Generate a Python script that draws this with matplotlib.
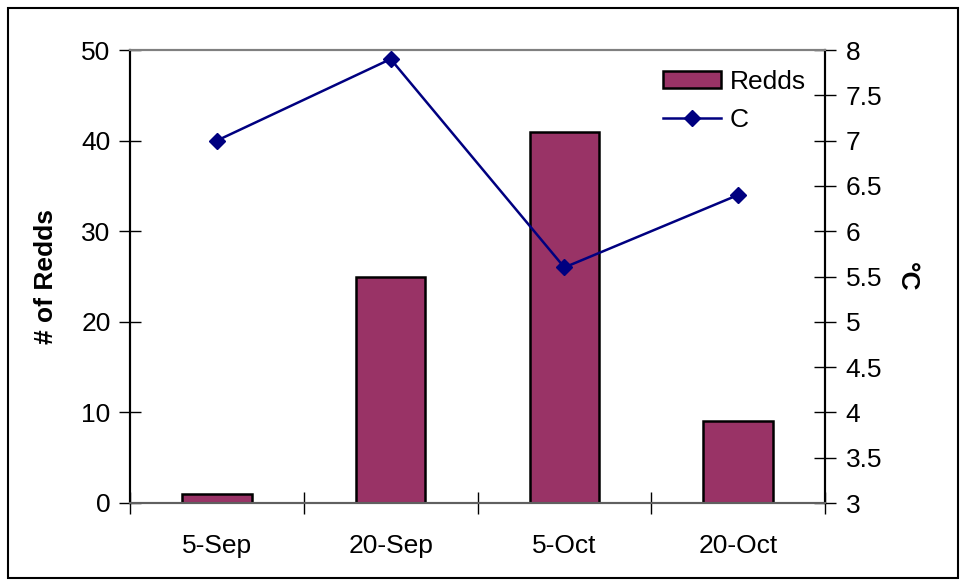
import numpy as np
import matplotlib.pyplot as plt
from matplotlib.patches import Rectangle, Patch
from matplotlib.lines import Line2D

plt.rcParams['font.family'] = ['Liberation Sans', 'DejaVu Sans']

dates = ["5-Sep", "20-Sep", "5-Oct", "20-Oct"]
redds = [1, 25, 41, 9]
temp_c = [7.0, 7.9, 5.6, 6.4]

fig = plt.figure(figsize=(9.64, 5.83), dpi=100)
ax = fig.add_axes([130/964, 1-503/583, 695/964, 453/583])
ax2 = ax.twinx()

x = np.arange(len(dates))
ax.bar(x, redds, width=0.4, color='#993366', edgecolor='black', linewidth=1.8, zorder=2)
ax.set_xlim(-0.5, len(dates) - 0.5)
ax.set_ylim(0, 50)
ax.set_yticks(range(0, 51, 10))
ax.set_xticks(np.arange(-0.5, len(dates), 1.0))
ax.set_xticklabels([])
ax.set_xticks(x, minor=True)
ax.set_xticklabels(dates, minor=True)
ax.tick_params(axis='x', which='major', direction='inout', length=16, width=1)
ax.tick_params(axis='x', which='minor', length=0, pad=22, labelsize=19)
ax.tick_params(axis='y', direction='inout', length=16, width=1, labelsize=19, pad=6)
ax.set_ylabel("# of Redds", fontsize=19, fontweight='bold', labelpad=17)

ax2.plot(x, temp_c, color='#000080', linewidth=1.8, marker='D', markersize=8, zorder=3)
ax2.set_ylim(3, 8)
ax2.set_yticks(np.arange(3, 8.01, 0.5))
ax2.set_yticklabels(['3', '3.5', '4', '4.5', '5', '5.5', '6', '6.5', '7', '7.5', '8'])
ax2.tick_params(axis='y', direction='inout', length=16, width=1, labelsize=19, pad=7)
ax2.set_ylabel("°C", fontsize=19, fontweight='bold', rotation=270, labelpad=26)

for a in (ax, ax2):
    a.spines['top'].set_color('#808080')
    a.spines['left'].set_color('black')
    a.spines['right'].set_color('black')
    a.spines['bottom'].set_color('#606060')
    for s in a.spines.values():
        s.set_linewidth(1.5)

handles = [Patch(facecolor='#993366', edgecolor='black', linewidth=1.8),
           Line2D([], [], color='#000080', linewidth=1.8, marker='D', markersize=8)]
fig.legend(handles, ["Redds", "C"], loc='upper left', bbox_to_anchor=(652/964, 1-59/583),
           frameon=False, fontsize=19, handlelength=2.2, handleheight=0.6,
           handletextpad=0.35, labelspacing=0.55, borderaxespad=0)

fig.patches.append(Rectangle((8/964, 5/583), 950/964, 570/583, transform=fig.transFigure,
                             fill=False, edgecolor='black', linewidth=1.5))

fig.savefig("out.png", dpi=100)
